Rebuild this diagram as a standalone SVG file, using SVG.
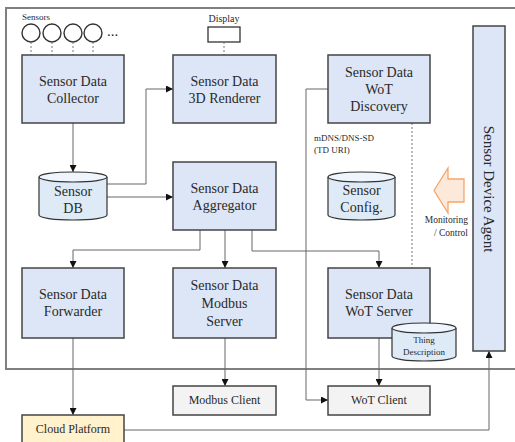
<svg xmlns="http://www.w3.org/2000/svg" width="515" height="442" viewBox="0 0 515 442">
<defs>
<marker id="ah" viewBox="0 0 10 10" refX="10" refY="5" markerWidth="7" markerHeight="7" markerUnits="userSpaceOnUse" orient="auto">
<path d="M0,0 L10,5 L0,10 z" fill="#111"/>
</marker>
<style>
.node{fill:#dce6f6;stroke:#444;stroke-width:1.5}
.client{fill:#f3f3f3;stroke:#444;stroke-width:1.5}
.cloud{fill:#fff2cc;stroke:#444;stroke-width:1.5}
.cyl{fill:#deebf7;stroke:#333;stroke-width:1.2}
.cyltop{fill:#eef5fc;stroke:#333;stroke-width:1.2}
.t{font-family:"Liberation Serif","Times New Roman",serif;fill:#2a2a2a;text-anchor:middle}
.big{font-size:14px}
.mid{font-size:12px}
.sm{font-size:9px}
.ln{fill:none;stroke:#666;stroke-width:1}
.arr{marker-end:url(#ah)}
.dash{fill:none;stroke:#777;stroke-width:1;stroke-dasharray:2,2}
</style>
</defs>
<rect width="515" height="442" fill="#fff"/>
<rect x="6" y="8" width="520" height="361" fill="none" stroke="#7f7f7f" stroke-width="2"/>

<g id="sensors">
<text class="t sm" x="22" y="20" style="text-anchor:start">Sensors</text>
<circle cx="31" cy="33" r="9" fill="#fff" stroke="#333" stroke-width="1.4"/>
<circle cx="52" cy="33" r="9" fill="#fff" stroke="#333" stroke-width="1.4"/>
<circle cx="73" cy="33" r="9" fill="#fff" stroke="#333" stroke-width="1.4"/>
<circle cx="93" cy="33" r="9" fill="#fff" stroke="#333" stroke-width="1.4"/>
<text class="t" x="107" y="36" style="text-anchor:start;font-size:15px">...</text>
</g>

<g id="display">
<text class="t" x="224" y="22" style="font-size:10px">Display</text>
<rect x="208" y="27" width="32" height="15" fill="#fff" stroke="#333" stroke-width="1.3"/>
</g>

<g id="connectors">
<path class="dash" d="M31,42 V55 M52,42 V55 M73,42 V55 M93,42 V55"/>
<path class="dash" d="M224,42 V55"/>
<path class="dash" d="M412,123 V268"/>
<path class="ln arr" d="M73,123 V172"/>
<path class="ln arr" d="M107,184 H146 V89 H173"/>
<path class="ln arr" d="M107,197 H173"/>
<path class="ln arr" d="M200,230 V250 H73 V268"/>
<path class="ln arr" d="M225,230 V268"/>
<path class="ln arr" d="M252,230 V251 H379 V268"/>
<path class="ln arr" d="M73,338 V415"/>
<path class="ln arr" d="M225,338 V386"/>
<path class="ln arr" d="M379,338 V386"/>
<path class="ln arr" d="M328,89 H306 V400 H328"/>
<path class="ln arr" d="M124,430 H489 V351"/>
</g>

<g id="collector">
<rect class="node" x="22" y="55" width="102" height="68"/>
<text class="t big" x="73" y="86">Sensor Data</text>
<text class="t big" x="73" y="103">Collector</text>
</g>

<g id="renderer">
<rect class="node" x="173" y="55" width="103" height="68"/>
<text class="t big" x="224.5" y="86">Sensor Data</text>
<text class="t big" x="224.5" y="103">3D Renderer</text>
</g>

<g id="discovery">
<rect class="node" x="328" y="55" width="102" height="68"/>
<text class="t big" x="379" y="77">Sensor Data</text>
<text class="t big" x="379" y="94">WoT</text>
<text class="t big" x="379" y="111">Discovery</text>
</g>

<g id="mdns-label">
<text class="t sm" x="314" y="141" style="text-anchor:start">mDNS/DNS-SD</text>
<text class="t sm" x="314" y="153" style="text-anchor:start">(TD URI)</text>
</g>

<g id="sensor-db">
<path class="cyl" d="M39,177 V215 A34,5 0 0 0 107,215 V177"/>
<ellipse class="cyltop" cx="73" cy="177" rx="34" ry="5"/>
<text class="t big" x="73" y="196">Sensor</text>
<text class="t big" x="73" y="213">DB</text>
</g>

<g id="aggregator">
<rect class="node" x="173" y="162" width="103" height="68"/>
<text class="t big" x="224.5" y="193">Sensor Data</text>
<text class="t big" x="224.5" y="210">Aggregator</text>
</g>

<g id="sensor-config">
<path class="cyl" d="M328,177 V215 A33.5,5 0 0 0 395,215 V177"/>
<ellipse class="cyltop" cx="361.5" cy="177" rx="33.5" ry="5"/>
<text class="t big" x="361.5" y="195">Sensor</text>
<text class="t big" x="361.5" y="212">Config.</text>
</g>

<g id="monitoring">
<polygon points="434,190.5 448,168 448,179 464,179 464,202 448,202 448,213" fill="#fde9d9" stroke="#f4a66a" stroke-width="1.3"/>
<text class="t sm" x="468" y="223" style="text-anchor:end;font-size:9.5px">Monitoring</text>
<text class="t sm" x="468" y="236" style="text-anchor:end;font-size:9.5px">/ Control</text>
</g>

<g id="agent">
<rect class="node" x="473" y="26" width="32" height="325"/>
<text class="t" x="189" y="-484" transform="rotate(90)" style="font-size:15px">Sensor Device Agent</text>
</g>

<g id="forwarder">
<rect class="node" x="22" y="268" width="102" height="70"/>
<text class="t big" x="73" y="299">Sensor Data</text>
<text class="t big" x="73" y="316">Forwarder</text>
</g>

<g id="modbus-server">
<rect class="node" x="173" y="268" width="103" height="70"/>
<text class="t big" x="224.5" y="290">Sensor Data</text>
<text class="t big" x="224.5" y="308">Modbus</text>
<text class="t big" x="224.5" y="326">Server</text>
</g>

<g id="wot-server">
<rect class="node" x="328" y="268" width="102" height="70"/>
<text class="t big" x="379" y="299">Sensor Data</text>
<text class="t big" x="379" y="316">WoT Server</text>
</g>

<g id="thing-description">
<path class="cyl" d="M392,328 V356 A32,5 0 0 0 456,356 V328"/>
<ellipse class="cyltop" cx="424" cy="328" rx="32" ry="5"/>
<text class="t sm" x="424" y="343">Thing</text>
<text class="t sm" x="424" y="355">Description</text>
</g>

<g id="modbus-client">
<rect class="client" x="173" y="386" width="103" height="29"/>
<text class="t mid" x="224.5" y="404">Modbus Client</text>
</g>

<g id="wot-client">
<rect class="client" x="328" y="386" width="102" height="29"/>
<text class="t mid" x="379" y="404">WoT Client</text>
</g>

<g id="cloud-platform">
<rect class="cloud" x="22" y="415" width="102" height="35"/>
<text class="t mid" x="73" y="433">Cloud Platform</text>
</g>
</svg>
